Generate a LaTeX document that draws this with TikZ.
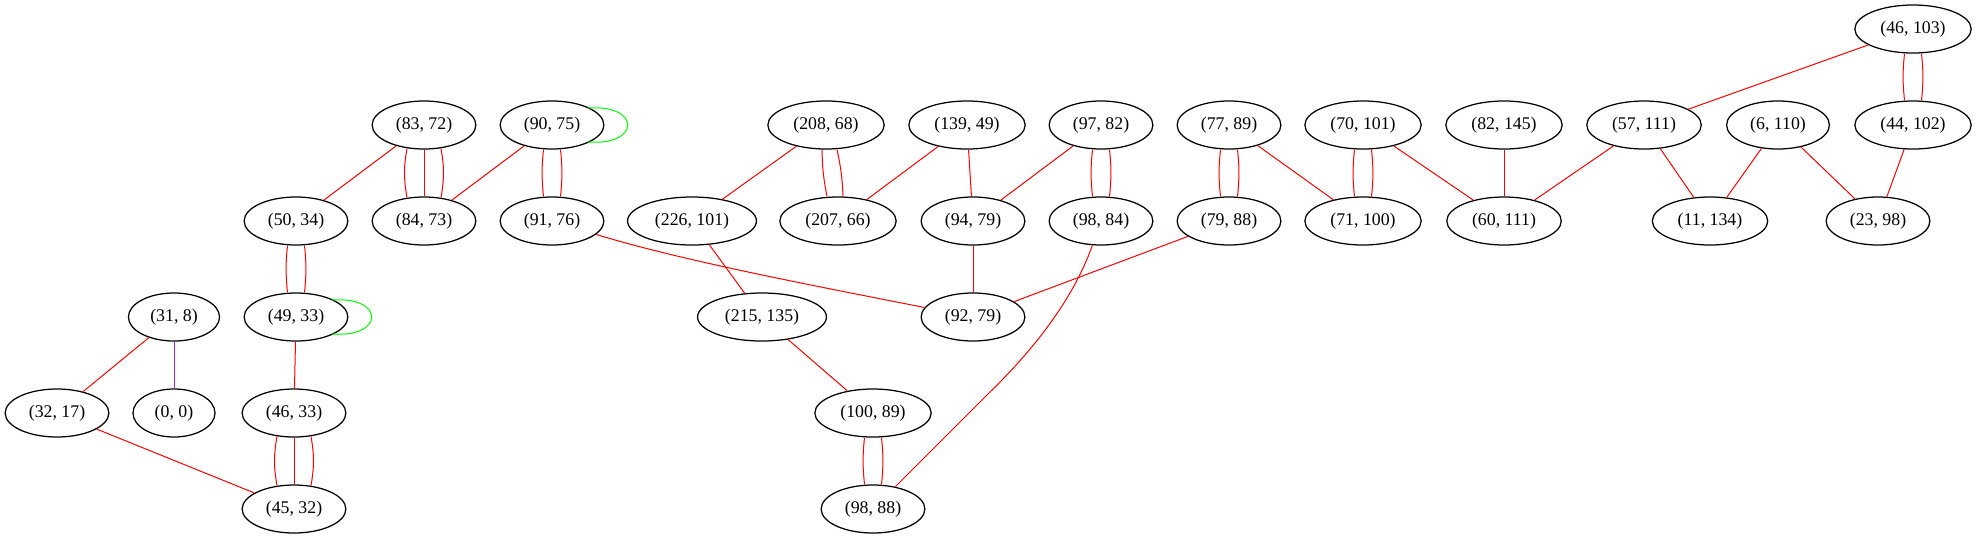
\documentclass[tikz,border=0pt]{standalone}
\usepackage{fontspec}
\setmainfont{Liberation Serif}
\usetikzlibrary{shapes.geometric}
\definecolor{ered}{RGB}{255,0,0}
\definecolor{egreen}{RGB}{0,255,0}
\definecolor{epurple}{RGB}{160,32,240}
\tikzset{
  vtx/.style={ellipse, draw=black, line width=1.25pt, inner xsep=8.5pt, inner ysep=2pt,
    minimum height=48pt, minimum width=82pt, font=\fontsize{17.8}{20}\selectfont},
  redge/.style={draw=ered, line width=1pt},
  gedge/.style={draw=egreen, line width=1pt},
  pedge/.style={draw=epurple, line width=1pt},
}
\newcommand{\dbledge}[2]{%
  \draw[redge] ([xshift=-8.5pt]#1.south) to[bend right=6] ([xshift=-8.5pt]#2.north);
  \draw[redge] ([xshift=8.5pt]#1.south) to[bend left=6] ([xshift=8.5pt]#2.north);}
\newcommand{\trpedge}[2]{%
  \draw[redge] ([shift={(-17pt,1.2pt)}]#1.south) to[bend right=10] ([shift={(-17pt,-1.2pt)}]#2.north);
  \draw[redge] (#1) -- (#2);
  \draw[redge] ([shift={(17pt,1.2pt)}]#1.south) to[bend left=10] ([shift={(17pt,-1.2pt)}]#2.north);}
\newcommand{\selfloopedge}[1]{%
  \draw[gedge] ([shift={(36pt,17pt)}]#1.center) .. controls +(53pt,4pt) and +(53pt,-4pt) .. ([shift={(36pt,-17pt)}]#1.center);}
\begin{document}
\begin{tikzpicture}[x=1pt,y=-1pt]
\useasboundingbox (0,0) rectangle (1977,539);
% row 0
\node[vtx] (a46103) at (1913,29) {(46, 103)};
% row 1
\node[vtx] (a8372) at (424,125) {(83, 72)};
\node[vtx] (a9075) at (552,125) {(90, 75)};
\node[vtx] (a20868) at (826,125) {(208, 68)};
\node[vtx] (a13949) at (967,125) {(139, 49)};
\node[vtx] (a9782) at (1101,125) {(97, 82)};
\node[vtx] (a7789) at (1229,125) {(77, 89)};
\node[vtx] (a70101) at (1363,125) {(70, 101)};
\node[vtx] (a82145) at (1504,125) {(82, 145)};
\node[vtx] (a57111) at (1644,125) {(57, 111)};
\node[vtx] (a6110) at (1778,125) {(6, 110)};
\node[vtx] (a44102) at (1913,125) {(44, 102)};
% row 2
\node[vtx] (a5034) at (296,221) {(50, 34)};
\node[vtx] (a8473) at (424,221) {(84, 73)};
\node[vtx] (a9176) at (552,221) {(91, 76)};
\node[vtx] (a226101) at (692,221) {(226, 101)};
\node[vtx] (a20766) at (838,221) {(207, 66)};
\node[vtx] (a9479) at (973,221) {(94, 79)};
\node[vtx] (a9884) at (1101,221) {(98, 84)};
\node[vtx] (a7988) at (1229,221) {(79, 88)};
\node[vtx] (a71100) at (1363,221) {(71, 100)};
\node[vtx] (a60111) at (1504,221) {(60, 111)};
\node[vtx] (a11134) at (1710,221) {(11, 134)};
\node[vtx] (a2398) at (1878,221) {(23, 98)};
% row 3
\node[vtx] (a318) at (174,317) {(31, 8)};
\node[vtx] (a4933) at (296,317) {(49, 33)};
\node[vtx] (a215135) at (762,317) {(215, 135)};
\node[vtx] (a9279) at (973,317) {(92, 79)};
% row 4
\node[vtx] (a3217) at (57,413) {(32, 17)};
\node[vtx] (a00) at (174,413) {(0, 0)};
\node[vtx] (a4633) at (294,413) {(46, 33)};
\node[vtx] (a10089) at (873,413) {(100, 89)};
% row 5
\node[vtx] (a4532) at (294,509) {(45, 32)};
\node[vtx] (a9888) at (873,509) {(98, 88)};

% single edges
\draw[redge] (a8372) -- (a5034);
\draw[redge] (a9075) -- (a8473);
\draw[redge] (a4933) -- (a4633);
\draw[redge] (a318) -- (a3217);
\draw[pedge] (a318) -- (a00);
\draw[redge] (a3217) -- (a4532);
\draw[redge] (a20868) -- (a226101);
\draw[redge] (a13949) -- (a20766);
\draw[redge] (a13949) -- (a9479);
\draw[redge] (a9782) -- (a9479);
\draw[redge] (a7789) -- (a71100);
\draw[redge] (a226101) -- (a215135);
\draw[redge] (a215135) -- (a10089);
\draw[redge] (a9479) -- (a9279);
\draw[redge] (a7988) -- (a9279);
\draw[redge] (a70101) -- (a60111);
\draw[redge] (a82145) -- (a60111);
\draw[redge] (a57111) -- (a60111);
\draw[redge] (a57111) -- (a11134);
\draw[redge] (a46103) -- (a57111);
\draw[redge] (a6110) -- (a11134);
\draw[redge] (a6110) -- (a2398);
\draw[redge] (a44102) -- (a2398);
% curved edges
\draw[redge] (a9176) .. controls (680,260) and (800,283) .. (a9279);
\draw[redge] (a9884) .. controls (1073,300) and (1033,350) .. (990,392) -- (a9888);
% multi edges
\trpedge{a8372}{a8473}
\trpedge{a4633}{a4532}
\dbledge{a9075}{a9176}
\dbledge{a5034}{a4933}
\dbledge{a9782}{a9884}
\dbledge{a7789}{a7988}
\dbledge{a70101}{a71100}
\dbledge{a46103}{a44102}
\dbledge{a10089}{a9888}
\draw[redge] ([xshift=-4pt]a20868.south) to[bend right=5] ([xshift=-11pt]a20766.north);
\draw[redge] ([xshift=11pt]a20868.south) to[bend left=5] ([xshift=5pt]a20766.north);
% self loops
\selfloopedge{a9075}
\selfloopedge{a4933}
\end{tikzpicture}
\end{document}
